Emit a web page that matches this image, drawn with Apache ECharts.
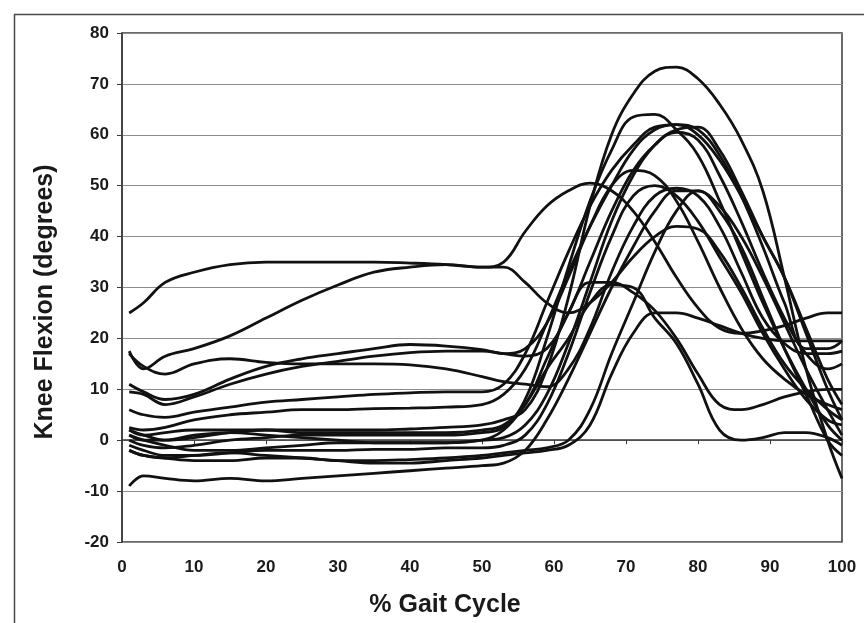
<!DOCTYPE html>
<html>
<head>
<meta charset="utf-8">
<script src="https://cdn.jsdelivr.net/npm/echarts@6/dist/echarts.min.js"></script>
<style>
html,body{margin:0;padding:0;background:#fff;}
#chart{width:864px;height:623px;}
</style>
</head>
<body>
<div id="chart"></div>
<script>
// % gait cycle sample positions shared by all curves
const gaitX = [1, 3, 6, 10, 15, 20, 25, 30, 35, 40, 45, 50, 53, 56, 59, 62, 65, 68, 71, 74, 77, 80, 83, 86, 89, 92, 95, 98, 100];

// knee flexion (degrees), one array per subject curve
const curveA = [25, 27, 31, 33, 34.5, 35, 35, 35, 35, 34.8, 34.5, 34, 34, 31, 27, 25, 27, 31, 36, 40, 42, 41.5, 37, 30, 22, 15, 10, 6, 4];
const curveB = [17.5, 14, 16.5, 18, 20.5, 24, 27.5, 30.5, 33, 34, 34.5, 34, 35, 41, 46, 49, 50.5, 49, 45, 39, 32, 26, 22, 21, 21.5, 22.5, 24, 25, 25];
const curveC = [17, 14.5, 13, 15, 16, 15.3, 15, 15, 15, 14.8, 14, 12.5, 11.5, 11, 10.5, 14, 22, 33, 42, 48, 49.5, 48, 42, 33, 24, 19, 17, 17, 17.5];
const curveD = [11, 9.5, 8, 9, 12, 14.5, 16, 17, 18, 18.8, 18.5, 17.8, 17, 18, 23, 32, 42, 50, 53, 52, 47, 39, 30, 22, 16, 12, 9, 7, 6];
const curveE = [9.5, 9, 7, 8.5, 11, 13, 14.5, 15.5, 16.5, 17.2, 17.5, 17.5, 17, 16.5, 18, 25, 35, 45, 53, 58, 60.5, 59, 52, 43, 33, 24, 17, 14, 15];
const curveF = [6, 5, 4.5, 5.5, 6.5, 7.5, 8, 8.5, 9, 9.3, 9.5, 9.5, 11, 17, 27, 37, 46, 53, 58, 61.5, 62, 60, 55, 48, 40, 32, 22, 12, 7];
const curveG = [2.5, 2, 2.5, 4, 5, 5.5, 6, 6, 6.2, 6.3, 6.5, 7, 9, 14, 23, 33, 42, 50, 57, 61, 62, 61, 56, 48, 38, 27, 18, 18, 19.5];
const curveH = [-9, -7, -7.5, -8, -7.5, -8, -7.5, -7, -6.5, -6, -5.5, -5, -4.5, -2, 4, 12, 21, 30, 38, 45, 49, 49, 45, 38, 28, 18, 9, 0, -3];
const curveI = [2, 1, 0, 0.5, 1.5, 2, 2, 2, 2, 2.2, 2.5, 3, 4, 6, 14, 28, 46, 60, 68, 72.5, 73.3, 71, 66, 59, 49, 32, 14, 0, -7.5];
const curveJ = [0, -1, -1.5, -1, 0, 0.5, 1, 1, 1, 1, 1, 1.5, 2.5, 8, 20, 34, 47, 57, 63.5, 64, 61, 56, 47, 37, 27, 18, 10, 3, 0];
const curveK = [1, 0, -1, -2, -2, -1.5, -1, -0.5, -0.5, -0.5, -0.5, 0, 0.5, 3, 9, 19, 31, 43, 52, 58, 61, 61.5, 57, 49, 40, 32, 21, 10, 4];
const curveL = [-1, -2, -3, -3, -2.5, -2, -2, -2, -1.8, -1.8, -1.5, -1.5, -1, 1, 7, 17, 29, 40, 48, 50, 48, 43, 36, 29, 21, 14, 8, 4, 3];
const curveM = [-2, -3, -3.5, -4, -4, -3.5, -3.5, -4, -4, -3.8, -3.5, -3, -2.5, -2, -1.5, 0, 6, 17, 27, 37, 45, 49, 46, 40, 32, 23, 14, 6, 1];
const curveN = [1, 0, 0, 1, 1.5, 1, 0.5, 0, -0.5, -0.5, -0.5, 0, 2, 7, 14, 20, 27, 30.5, 30, 24, 19, 11, 2, 0, 0.5, 1.5, 1.5, 0.5, -1];
const curveO = [2, 1, 1.5, 2, 2, 2, 1.5, 1.5, 1.5, 1.5, 1.5, 2, 3, 7, 16, 25, 31, 31, 29, 25.5, 20, 13, 7, 6, 7, 8.5, 9.5, 10, 10];
const curveP = [-2, -3, -3.5, -3, -2.5, -3, -3.5, -4, -4.5, -4.5, -4, -3.5, -3, -2.5, -2, -1, 3, 13, 21, 25, 25, 24, 22.5, 21, 20, 19.5, 19.5, 19.5, 19.5];

const curves = [curveA, curveB, curveC, curveD, curveE, curveF, curveG, curveH,
                curveI, curveJ, curveK, curveL, curveM, curveN, curveO, curveP];

const xTicks = [0, 10, 20, 30, 40, 50, 60, 70, 80, 90, 100];
const yTicks = [-20, -10, 0, 10, 20, 30, 40, 50, 60, 70, 80];

const chart = echarts.init(document.getElementById('chart'), null, {renderer: 'canvas'});

const labelStyle = {color: '#1a1a1a', fontFamily: 'Liberation Sans, Arial, sans-serif', fontWeight: 'bold', fontSize: 17};

chart.setOption({
  animation: false,
  backgroundColor: '#fff',
  grid: {left: 122, right: 22, top: 33, bottom: 81, show: true, borderColor: '#3a3a3a', borderWidth: 1.5},
  xAxis: {
    type: 'value', min: xTicks[0], max: xTicks[xTicks.length - 1], interval: 10,
    axisLine: {show: true, lineStyle: {color: '#3a3a3a', width: 1.5}},
    axisTick: {show: true, inside: false, length: 4, lineStyle: {color: '#3a3a3a'}},
    axisLabel: Object.assign({margin: 17}, labelStyle),
    splitLine: {show: false}
  },
  yAxis: {
    type: 'value', min: yTicks[0], max: yTicks[yTicks.length - 1], interval: 10,
    axisLine: {show: true, onZero: false, lineStyle: {color: '#3a3a3a', width: 1.5}},
    axisTick: {show: true, inside: false, length: 5, lineStyle: {color: '#3a3a3a'}},
    axisLabel: Object.assign({margin: 13}, labelStyle),
    splitLine: {show: true, lineStyle: {color: '#8c8c8c', width: 1.2}}
  },
  graphic: [
    {type: 'rect', left: 12, top: 12, shape: {width: 900, height: 700}, style: {fill: 'none', stroke: '#4a4a4a', lineWidth: 1.5}, silent: true, z: -1},
    {type: 'text', x: 445, y: 605, style: {text: '% Gait Cycle', font: 'bold 25px "Liberation Sans", Arial, sans-serif', fill: '#1a1a1a', textAlign: 'center', textVerticalAlign: 'middle'}},
    {type: 'text', x: 45, y: 302, rotation: Math.PI / 2, style: {text: 'Knee Flexion (degrees)', font: 'bold 25px "Liberation Sans", Arial, sans-serif', fill: '#1a1a1a', textAlign: 'center', textVerticalAlign: 'middle'}}
  ],
  series: curves.map(function (c, k) {
    return {
      type: 'line', name: 'curve' + k, smooth: 0.4, showSymbol: false,
      lineStyle: {color: '#111', width: 2.8},
      data: gaitX.map(function (x, i) { return [x, c[i]]; })
    };
  })
});
</script>
</body>
</html>
